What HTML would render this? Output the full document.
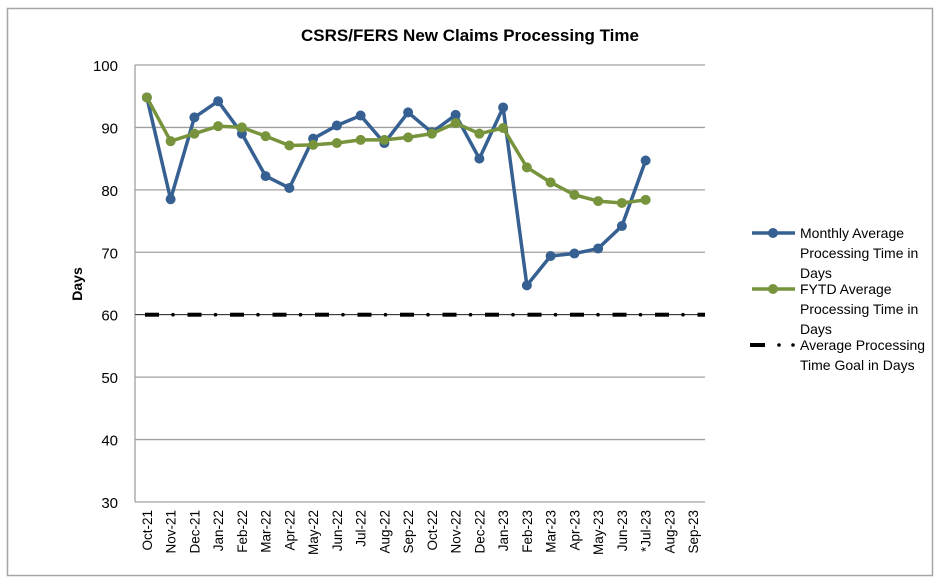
<!DOCTYPE html>
<html><head><meta charset="utf-8"><style>
body{margin:0;background:#fff;}
svg{display:block;font-family:"Liberation Sans",sans-serif;}
</style></head><body>
<svg id="s" width="936" height="584" xmlns="http://www.w3.org/2000/svg">
<rect x="7.5" y="8.5" width="925" height="567" fill="#fff" stroke="#a6a6a6" stroke-width="1.5"/>
<text x="470" y="41" text-anchor="middle" font-size="17" font-weight="bold">CSRS/FERS New Claims Processing Time</text>
<text transform="translate(82,284) rotate(-90)" text-anchor="middle" font-size="14" font-weight="bold">Days</text>
<g id="g"></g>
<g font-size="14">
<line x1="752" y1="233" x2="795" y2="233" stroke="#366092" stroke-width="3.5"/><circle cx="773" cy="233" r="5" fill="#366092"/>
<text x="800" y="238">Monthly Average</text><text x="800" y="258">Processing Time in</text><text x="800" y="278">Days</text>
<line x1="752" y1="289" x2="795" y2="289" stroke="#77933c" stroke-width="3.5"/><circle cx="773" cy="289" r="5" fill="#77933c"/>
<text x="800" y="294">FYTD Average</text><text x="800" y="314">Processing Time in</text><text x="800" y="334">Days</text>
<line x1="750" y1="345" x2="765" y2="345" stroke="#000" stroke-width="4"/><circle cx="779" cy="345" r="1.8"/><circle cx="793" cy="345" r="1.8"/>
<text x="800" y="350">Average Processing</text><text x="800" y="370">Time Goal in Days</text>
</g>
</svg>
<script>
const g=document.getElementById('g');let h='';
const y=v=>502-(v-30)*6.243, X0=135, W=23.75, x=i=>X0+W*(i+0.5);
for(let v=30;v<=100;v+=10){h+=`<line x1="${X0}" x2="${X0+24*W}" y1="${y(v)}" y2="${y(v)}" stroke="#a0a0a0" stroke-width="1.3"/>`;
h+=`<text x="118" y="${y(v)+6}" text-anchor="end" font-size="15">${v}</text>`;}
h+=`<line x1="${X0}" x2="${X0}" y1="${y(100)}" y2="${y(30)}" stroke="#a0a0a0" stroke-width="1.3"/>`;
const L=['Oct-21','Nov-21','Dec-21','Jan-22','Feb-22','Mar-22','Apr-22','May-22','Jun-22','Jul-22','Aug-22','Sep-22','Oct-22','Nov-22','Dec-22','Jan-23','Feb-23','Mar-23','Apr-23','May-23','Jun-23','*Jul-23','Aug-23','Sep-23'];
L.forEach((l,i)=>{h+=`<text transform="translate(${x(i)+5},510) rotate(-90)" text-anchor="end" font-size="13.5">${l}</text>`;});
// goal
for(let px=145;px<705;px+=42.5){h+=`<line x1="${px}" x2="${Math.min(px+14,705)}" y1="${y(60)}" y2="${y(60)}" stroke="#000" stroke-width="4"/>`;
 if(px+28<705)h+=`<circle cx="${px+28}" cy="${y(60)}" r="1.8"/>`;}
h+=`<line x1="${X0}" x2="705" y1="${y(60)}" y2="${y(60)}" stroke="#000" stroke-width="0.6"/>`;
const M=[94.8,78.5,91.6,94.2,89,82.2,80.3,88.2,90.3,91.9,87.5,92.4,89.2,92,85,93.2,64.7,69.4,69.8,70.6,74.2,84.7];
const F=[94.8,87.8,89,90.2,90,88.6,87.1,87.2,87.5,88,88,88.4,89,90.7,89,89.9,83.6,81.2,79.2,78.2,77.9,78.4];
function ser(d,c){h+=`<polyline fill="none" stroke="${c}" stroke-width="3.5" stroke-linejoin="round" points="${d.map((v,i)=>x(i)+','+y(v)).join(' ')}"/>`;
d.forEach((v,i)=>h+=`<circle cx="${x(i)}" cy="${y(v)}" r="5" fill="${c}"/>`);}
ser(M,'#366092');ser(F,'#77933c');
g.innerHTML=h;
</script>
</body></html>
